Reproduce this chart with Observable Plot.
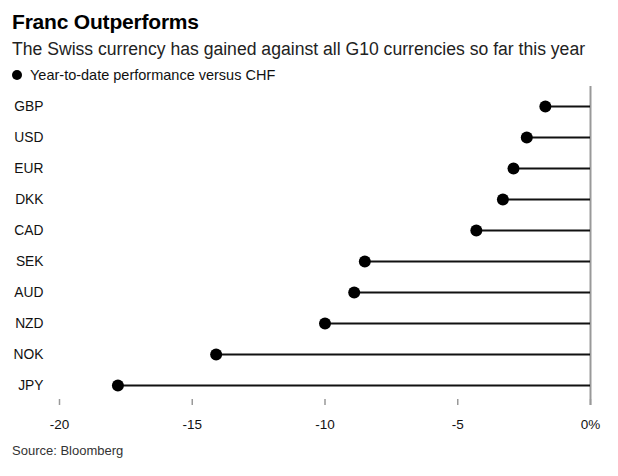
<!DOCTYPE html>
<html>
<head>
<meta charset="utf-8">
<script src="https://cdn.jsdelivr.net/npm/d3@7"></script>
<script src="https://cdn.jsdelivr.net/npm/@observablehq/plot@0.6"></script>
<style>
  body { margin: 0; background: #fff; font-family: "Liberation Sans", Arial, sans-serif; color: #111; }
  #wrap { width: 618px; position: relative; }
  #head { position: relative; height: 86px; }
  #title { position: absolute; left: 12px; top: 11px; font-size: 21px; line-height: 22px; font-weight: bold; color: #000; letter-spacing: -0.2px; }
  #subtitle { position: absolute; left: 12px; top: 40px; font-size: 17.6px; line-height: 19px; color: #222; }
  #legend { position: absolute; left: 12px; top: 67px; font-size: 14.5px; line-height: 16px; color: #111; display: flex; align-items: center; }
  #legend .sw { width: 10px; height: 10px; border-radius: 50%; background: #000; margin-right: 8px; }
  #source { margin: 8px 0 0 12px; font-size: 13px; line-height: 14px; color: #333; }
  svg { display: block; }
</style>
</head>
<body>
<div id="wrap">
  <div id="head">
    <div id="title">Franc Outperforms</div>
    <div id="subtitle">The Swiss currency has gained against all G10 currencies so far this year</div>
    <div id="legend"><span class="sw"></span><span>Year-to-date performance versus CHF</span></div>
  </div>
  <div id="chart"></div>
  <div id="source">Source: Bloomberg</div>
</div>
<script>
const currencies = ["GBP", "USD", "EUR", "DKK", "CAD", "SEK", "AUD", "NZD", "NOK", "JPY"];
const values = [-1.7, -2.4, -2.9, -3.3, -4.3, -8.5, -8.9, -10.0, -14.1, -17.8];
const xTicks = [-20, -15, -10, -5, 0];
const xTickLabels = ["-20", "-15", "-10", "-5", "0%"];

const data = currencies.map((c, i) => ({currency: c, value: values[i]}));

const chart = Plot.plot({
  width: 618,
  height: 350,
  marginTop: 0,
  marginBottom: 31,
  marginLeft: 59,
  marginRight: 28,
  style: {fontFamily: '"Liberation Sans", Arial, sans-serif', fontSize: "13px", color: "#111", background: "#fff"},
  x: {domain: [-20, 0]},
  y: {type: "point", domain: currencies, range: [18, 301], padding: 0},
  marks: [
    Plot.ruleX(xTicks, {stroke: "#999", strokeWidth: 1.5, insetTop: 313}),
    Plot.ruleX([0], {stroke: "#999", strokeWidth: 2}),
    Plot.ruleY(data, {y: "currency", x1: 0, x2: "value", stroke: "#111", strokeWidth: 2}),
    Plot.dot(data, {x: "value", y: "currency", r: 6, fill: "#000", stroke: "none"}),
    Plot.axisY({tickSize: 0, tickPadding: 16, fontSize: 13.8, label: null}),
    Plot.axisX({ticks: xTicks, tickSize: 0, tickPadding: 14, label: null, fontSize: 13.5,
      tickFormat: d => xTickLabels[xTicks.indexOf(d)]})
  ]
});
document.getElementById("chart").appendChild(chart);
</script>
</body>
</html>
